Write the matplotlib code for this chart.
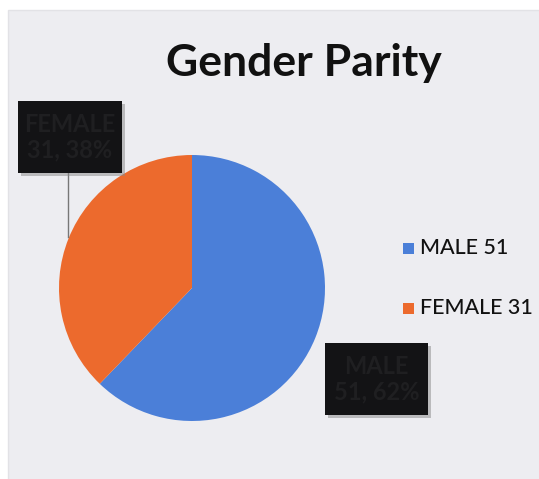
import matplotlib.pyplot as plt
from matplotlib.patches import Rectangle

categories = ['MALE', 'FEMALE']
values = [51, 31]
colors = ['#4b7fd8', '#ec6a2d']

W, H = 539, 479

fig = plt.figure(figsize=(W / 100, H / 100), dpi=100)
fig.patch.set_facecolor('white')
ax = fig.add_axes([0, 0, 1, 1])

# scanned slide background
ax.add_patch(Rectangle((8, -5), W + 5, H - 5, facecolor='#ededf1', edgecolor='#e2e2e6', lw=1, zorder=0))

ax.pie(values, colors=colors, startangle=90, counterclock=False,
       center=(192, 191), radius=133, frame=True,
       wedgeprops=dict(linewidth=0))
ax.set_xlim(0, W)
ax.set_ylim(0, H)
ax.set_aspect('equal')
ax.axis('off')

ax.text(304, 416, 'Gender Parity', ha='center', va='center',
        fontsize=32, fontweight='bold', family='Lato', color='#111111')

# data label boxes (dark on dark, as in the scan)
total = sum(values)
boxes = [(325, 64, 103, 72), (18, 306, 104, 72)]
for (cat, val), (bx, by, bw, bh) in zip(zip(categories, values), boxes):
    ax.add_patch(Rectangle((bx + 3, by - 3), bw, bh, facecolor='#888888', alpha=0.5, lw=0, zorder=3))
    ax.add_patch(Rectangle((bx, by), bw, bh, facecolor='#131315', lw=0, zorder=4))
    ax.text(bx + bw / 2, by + bh / 2, f'{cat}\n{val}, {round(val / total * 100)}%',
            ha='center', va='center', fontsize=17, fontweight='bold', family='Lato',
            color='#1f1f21', linespacing=1.15, zorder=5)

# leader line for female label
ax.plot([68, 68], [306, 242], color='#777777', lw=1, zorder=2)

# legend
for i, (cat, val) in enumerate(zip(categories, values)):
    y = 231 - i * 60
    ax.add_patch(Rectangle((403, y - 5.5), 11, 11, facecolor=colors[i], lw=0, zorder=3))
    ax.text(420, y, f'{cat} {val}', ha='left', va='center', fontsize=15.5,
            family='Lato', fontweight='medium', color='#111111')

fig.savefig('out.png', dpi=100)
